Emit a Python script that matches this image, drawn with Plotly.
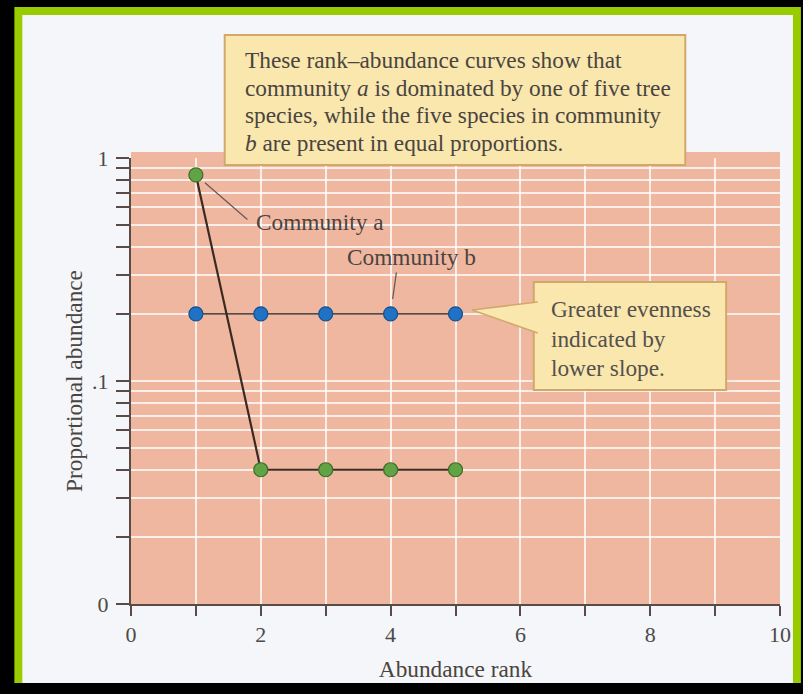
import math
import plotly.graph_objects as go

# ---- data ----
rank = [1, 2, 3, 4, 5]
community_a = [0.84, 0.04, 0.04, 0.04, 0.04]
community_b = [0.2, 0.2, 0.2, 0.2, 0.2]

x_ticks = list(range(0, 11))
x_ticktext = ["0", "", "2", "", "4", "", "6", "", "8", "", "10"]
y_ticks = [0.01, 0.02, 0.03, 0.04, 0.05, 0.06, 0.07, 0.08, 0.09,
           0.1, 0.2, 0.3, 0.4, 0.5, 0.6, 0.7, 0.8, 0.9, 1.0]
y_ticktext = ["0"] + [""] * 8 + [".1"] + [""] * 8 + ["1"]

top_note = [
    "These rank\u2013abundance curves show that",
    "community <i>a</i> is dominated by one of five tree",
    "species, while the five species in community",
    "<i>b</i> are present in equal proportions.",
]
side_note = ["Greater evenness", "indicated by", "lower slope."]

# ---- page geometry (pixels) ----
W, H = 803, 694
L, R, T, B = 131, 782, 158, 604
FONT = "Liberation Serif"
TEXT = "#4a4440"
BOX_FILL = "#f9e7ae"
BOX_LINE = "#d2a86a"


def px(xp):
    return (xp - L) / (R - L)


def py(yp):
    return (B - yp) / (B - T)


def rect(x0, y0, x1, y1, fill, line=None, lw=0, layer="below"):
    return dict(type="rect", xref="paper", yref="paper",
                x0=px(x0), x1=px(x1), y0=py(y1), y1=py(y0),
                fillcolor=fill, line=dict(color=line or fill, width=lw),
                layer=layer)


fig = go.Figure()

fig.add_trace(go.Scatter(
    x=rank, y=community_b, mode="lines+markers", name="Community b",
    line=dict(color="#5a4a45", width=1.6),
    marker=dict(size=14, color="#1f72c4", line=dict(color="#11508f", width=1.2)),
))
fig.add_trace(go.Scatter(
    x=rank, y=community_a, mode="lines+markers", name="Community a",
    line=dict(color="#3a2a24", width=2.2),
    marker=dict(size=14, color="#62a445", line=dict(color="#3d6e2a", width=1.2)),
))

shapes = [
    rect(14, 7, 803, 683, "#99cc00"),          # green frame
    rect(22, 15, 795, 683, "#f4f6f9"),         # page
    rect(L, 152, R, B, "#f0b7a0"),             # plot area
    rect(225, 35, 687, 165, BOX_FILL, BOX_LINE, 2, "above"),
    rect(535, 282, 728, 390, BOX_FILL, BOX_LINE, 2, "above"),
]
# callout wedge pointing at the last point of community b
wedge = "M {},{} L {},{} L {},{}".format(
    px(539), py(302), px(473), py(310), px(539), py(333))
shapes.append(dict(type="path", xref="paper", yref="paper", path=wedge,
                   fillcolor=BOX_FILL, line=dict(color=BOX_LINE, width=1.5),
                   layer="above"))

annotations = []
for i, line in enumerate(top_note):
    annotations.append(dict(
        xref="paper", yref="paper", x=px(243), y=py(60 + i * 27.7),
        xanchor="left", yanchor="middle", showarrow=False, text=line,
        font=dict(family=FONT, size=23.3, color=TEXT)))
for i, line in enumerate(side_note):
    annotations.append(dict(
        xref="paper", yref="paper", x=px(550), y=py(309 + i * 29.5),
        xanchor="left", yanchor="middle", showarrow=False, text=line,
        font=dict(family=FONT, size=23.3, color="#55504c")))

# series labels with leader lines
annotations.append(dict(
    xref="paper", yref="paper", x=px(254), y=py(222), xanchor="left",
    yanchor="middle", showarrow=False, text="Community a",
    font=dict(family=FONT, size=23.3, color=TEXT)))
annotations.append(dict(
    xref="paper", yref="paper", x=px(412), y=py(257), xanchor="center",
    yanchor="middle", showarrow=False, text="Community b",
    font=dict(family=FONT, size=23.3, color=TEXT)))
annotations.append(dict(
    x=rank[0], y=math.log10(community_a[0]), xref="x", yref="y", text="",
    showarrow=True, arrowhead=0, arrowwidth=1.3, arrowcolor="#6a5a55",
    ax=53, ay=46, standoff=12))
annotations.append(dict(
    x=rank[3], y=math.log10(community_b[3]), xref="x", yref="y", text="",
    showarrow=True, arrowhead=0, arrowwidth=1.3, arrowcolor="#6a5a55",
    ax=6, ay=-43, standoff=15))

axis_common = dict(
    showline=True, linecolor="#5b4b46", linewidth=2,
    ticks="outside", tickcolor="#5b4b46", tickwidth=1.5,
    showgrid=True, gridcolor="rgba(255,255,255,0.75)", gridwidth=1.5,
    zeroline=False,
    tickfont=dict(family=FONT, size=22, color="#4d4a48"),
    title_font=dict(family=FONT, size=23.3, color="#4a4440"),
)

fig.update_layout(
    width=W, height=H,
    margin=dict(l=L, r=W - R, t=T, b=H - B, pad=0),
    paper_bgcolor="#000000",
    plot_bgcolor="rgba(0,0,0,0)",
    showlegend=False,
    xaxis=dict(axis_common, range=[0, 10], tickmode="array",
               tickvals=x_ticks, ticktext=x_ticktext, ticklen=10,
               title=dict(text="Abundance rank", standoff=14)),
    yaxis=dict(axis_common, type="log", range=[-2, 0], tickmode="array",
               tickvals=y_ticks, ticktext=y_ticktext, ticklen=13,
               ticklabelstandoff=3,
               title=dict(text="Proportional abundance", standoff=3)),
    shapes=shapes,
    annotations=annotations,
)

fig.write_html("out.html")
